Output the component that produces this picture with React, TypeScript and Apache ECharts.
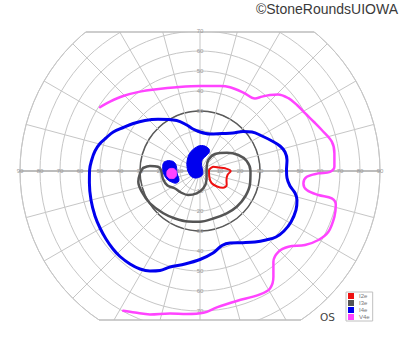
import React, { useEffect, useRef } from "react";
import * as echarts from "echarts";

// ---------- layout constants ----------
const CENTER: [number, number] = [200, 171];
const RADIUS_PX = 180;
const TOP_CLIP_Y = 32;
const BOTTOM_CLIP_Y = 320;

// ---------- axes ----------
const ECC_MAX = 90; // degrees of eccentricity
const ECC_STEP = 10;
const ECC_TICKS = [0, 10, 20, 30, 40, 50, 60, 70, 80, 90];
const VERTICAL_LABEL_MAX = 70; // vertical meridian is cut at about 70°
const EMPHASIS_RING = 30;
const MERIDIAN_STEP = 15;

// ---------- legend ----------
const LEGEND_NAMES = ["I2e", "I3e", "I4e", "V4e"];
const COLORS: Record<string, string> = {
  I2e: "#ee1111",
  I3e: "#555555",
  I4e: "#0000ee",
  V4e: "#ff44ff",
};

// ---------- isopters: [horizontal°, vertical°] ----------
const I2E: [number, number][] = [
  [4.5, 0.5], [6.65, 2.15], [9.5, 1.75], [12.5, 1.35], [15.35, 0], [13.75, -2],
  [13.25, -4.5], [13.35, -7], [11.5, -8.4], [8.5, -7.75], [5.75, -6], [4.65, -3],
];

const I3E: [number, number][] = [
  [-28.5, 1.5], [-25, 2.5], [-21, 2.15], [-19.5, 0.5], [-18.5, -4], [-16.25, -7.25],
  [-12.5, -8.75], [-9.5, -10.75], [-6, -12], [-1.65, -11.15], [1.65, -8.65],
  [3.25, -4.5], [3.35, 2], [4.15, 5.5], [7.5, 8.5], [13.5, 9.15], [19.15, 8],
  [23.35, 5], [25.25, 0], [25, -6.5], [22.75, -12.5], [18.5, -17.75],
  [13.35, -21.15], [6.65, -23.75], [0, -25.35], [-6, -25.25], [-12.5, -23.75],
  [-18.35, -21.15], [-25, -16.15], [-29.15, -10.35], [-30.85, -5.35], [-30, -1.15],
];

const I4E: [number, number][] = [
  [0, 19.5], [5, 18.5], [11, 18.75], [16.5, 19], [21.5, 19.75], [26, 19.5],
  [31, 17.5], [36, 15], [40, 12.5], [42.5, 9.5], [43.5, 5.5], [43.25, 0.5],
  [43.5, -3.5], [45, -7.5], [47.5, -11], [48.5, -14.5], [48, -19.5], [45.5, -25.5],
  [42, -30], [38, -33], [33, -34.5], [27.5, -35.5], [21.5, -35.85], [15, -36],
  [11, -37.25], [6.5, -41], [0, -44.25], [-7.5, -46.5], [-15, -48], [-20, -49.75],
  [-25, -50], [-30, -49], [-35, -46.5], [-40, -42.75], [-43.5, -39], [-47, -34],
  [-50, -28.5], [-52.5, -22.5], [-54.5, -14.5], [-55.3, -6], [-55.2, 0.5],
  [-54.15, 5.5], [-52.5, 10], [-50, 13.75], [-47, 16.5], [-43.35, 19.5],
  [-38.35, 21.75], [-33.35, 23.75], [-27.5, 25.25], [-21, 25.85], [-11.65, 25.25],
  [-6.65, 23], [-3.5, 21],
];

const I4E_CENTRAL: [number, number][] = [
  [0.75, 12.75], [4, 11.5], [4.75, 9.75], [3.25, 7.75], [1.25, 5.75], [0.75, 3.5],
  [1.25, 0.5], [1.25, -1.75], [-0.75, -3.25], [-3.5, -3.25], [-5.5, -1.25],
  [-6.5, 2.25], [-6.25, 6], [-5, 9], [-2.5, 11.5],
];

const I4E_PARACENTRAL: [number, number][] = [
  [-18.25, 4], [-16.75, 5], [-14.75, 5.1], [-12.75, 4.25], [-11.75, 2], [-11.5, -1],
  [-10.5, -4.5], [-11.75, -6], [-14.25, -5.5], [-16.5, -4], [-18.1, -1.5], [-18.65, 1.5],
];

const V4E: [number, number][] = [
  [-50, 31.9], [-45, 34.7], [-38.4, 37.5], [-30, 39.7], [-21.7, 40.9], [-11.7, 41.9],
  [0, 42.5], [10, 42.5], [15, 41.9], [21.7, 39.2], [27.5, 36.2], [31, 37.2],
  [35, 38], [39, 38.3], [44.2, 36.4], [48.5, 33], [52.5, 28.9], [57, 24.5],
  [60.9, 20.5], [65.9, 14.7], [67.2, 8.9], [67.2, 2.2], [65, -0.4], [59.2, -1.2],
  [53.4, -2.9], [51.7, -6.2], [53.4, -9.5], [59.2, -12], [65.9, -13.7], [67.9, -17],
  [67.2, -22.9], [64.2, -30.4], [59.2, -34.5], [52.5, -37], [44.2, -37.9],
  [39.2, -40.4], [36.7, -45.4], [36.7, -52.9], [35, -58.7], [30, -61.7],
  [18.4, -65], [8.4, -68.2], [1.7, -70.9], [-6.7, -71.5], [-15, -71.2],
  [-25, -71.7], [-32.5, -70.8], [-38.4, -69.9],
];

const V4E_PARACENTRAL: [number, number][] = [
  [-16.6, -1.25], [-16, 0.6], [-14.15, 1.3], [-12.3, 0.6], [-11.7, -1.25],
  [-12.3, -3.1], [-14.15, -3.8], [-16, -3.1],
];

// ---------- helpers ----------
const toPolar = ([x, y]: [number, number]): [number, number] => {
  const r = Math.hypot(x, y);
  let a = (Math.atan2(y, x) * 180) / Math.PI;
  if (a < 0) a += 360;
  return [r, a];
};
const closed = (pts: [number, number][]) => [...pts, pts[0]];

const GRID = "#c6c6c6";
const FONT = "Liberation Sans, Arial, sans-serif";

function lineSeries(name: string, pts: [number, number][], width: number, isClosed: boolean) {
  return {
    type: "line",
    name,
    coordinateSystem: "polar",
    polarIndex: 0,
    data: (isClosed ? closed(pts) : pts).map(toPolar),
    smooth: 0.35,
    symbol: "none",
    lineStyle: { color: COLORS[name], width, cap: "round", join: "round" },
    itemStyle: { color: COLORS[name] },
    z: 56,
    silent: true,
  };
}

function blobSeries(name: string, pts: [number, number][], z: number) {
  return {
    type: "custom",
    name,
    coordinateSystem: "polar",
    polarIndex: 0,
    data: [[0, 0]],
    itemStyle: { color: COLORS[name] },
    z,
    silent: true,
    renderItem: (_params: any, api: any) => ({
      type: "polygon",
      shape: { points: pts.map((p) => api.coord(toPolar(p))), smooth: 0.45 },
      style: { fill: COLORS[name], stroke: COLORS[name], lineWidth: 1 },
    }),
  };
}

function labelCfg(maxShown: number) {
  return {
    show: true,
    fontSize: 6,
    color: "#9a9a9a",
    margin: 0,
    align: "center",
    verticalAlign: "middle",
    fontFamily: FONT,
    formatter: (v: number) => (v === 0 || v > maxShown ? "" : String(v)),
  };
}

function angleAxis(i: number, start: number, visible: boolean) {
  return {
    polarIndex: i,
    type: "value",
    min: 0,
    max: 360,
    interval: MERIDIAN_STEP,
    startAngle: start,
    clockwise: false,
    axisLine: { show: visible, lineStyle: { color: GRID, width: 1 } },
    axisTick: { show: false },
    axisLabel: { show: false },
    splitLine: { show: visible, lineStyle: { color: GRID, width: 1 } },
  };
}

function radiusAxis(i: number, maxShown: number, opts: any) {
  return {
    polarIndex: i,
    type: "value",
    min: 0,
    max: ECC_MAX,
    interval: ECC_STEP,
    axisTick: { show: false },
    axisLabel: labelCfg(maxShown),
    ...opts,
  };
}

export default function App() {
  const ref = useRef<HTMLDivElement>(null);

  useEffect(() => {
    if (!ref.current) return;
    const chart = echarts.init(ref.current, undefined, { renderer: "svg" });

    const dyTop = CENTER[1] - TOP_CLIP_Y;
    const dyBot = BOTTOM_CLIP_Y - CENTER[1];
    const hwTop = Math.sqrt(RADIUS_PX * RADIUS_PX - dyTop * dyTop);
    const hwBot = Math.sqrt(RADIUS_PX * RADIUS_PX - dyBot * dyBot);

    const polar = [0, 1, 2, 3].map(() => ({ center: CENTER, radius: RADIUS_PX }));

    const option: any = {
      animation: false,
      backgroundColor: "#ffffff",
      polar,
      angleAxis: [
        angleAxis(0, 0, true),
        angleAxis(1, 180, false),
        angleAxis(2, 90, false),
        angleAxis(3, 270, false),
      ],
      radiusAxis: [
        radiusAxis(0, ECC_MAX, {
          axisLine: { show: true, lineStyle: { color: "#bcbcbc", width: 2 } },
          splitLine: { show: true, lineStyle: { color: GRID, width: 1 } },
        }),
        radiusAxis(1, ECC_MAX, {
          axisLine: { show: true, lineStyle: { color: "#bcbcbc", width: 2 } },
          splitLine: {
            show: true,
            lineStyle: {
              color: ECC_TICKS.map((v) => (v === EMPHASIS_RING ? "#5a5a5a" : "rgba(0,0,0,0)")),
              width: 1.5,
            },
          },
        }),
        radiusAxis(2, VERTICAL_LABEL_MAX, { z: 53, axisLine: { show: false }, splitLine: { show: false } }),
        radiusAxis(3, VERTICAL_LABEL_MAX, { z: 53, axisLine: { show: false }, splitLine: { show: false } }),
      ],
      legend: {
        data: LEGEND_NAMES,
        orient: "vertical",
        left: 346,
        top: 292,
        itemWidth: 6,
        itemHeight: 6,
        itemGap: 1,
        padding: [1, 3, 1, 2],
        icon: "rect",
        selectedMode: false,
        backgroundColor: "#ffffff",
        borderColor: "#c0c0c0",
        borderWidth: 1,
        borderRadius: 0,
        z: 60,
        textStyle: { fontSize: 6, color: "#777", fontFamily: FONT },
      },
      graphic: [
        { type: "rect", z: 50, silent: true, shape: { x: 0, y: 0, width: 400, height: TOP_CLIP_Y }, style: { fill: "#fff" } },
        { type: "rect", z: 50, silent: true, shape: { x: 0, y: BOTTOM_CLIP_Y, width: 400, height: 352 - BOTTOM_CLIP_Y }, style: { fill: "#fff" } },
        {
          type: "line", z: 51, silent: true,
          shape: { x1: CENTER[0] - hwTop, y1: TOP_CLIP_Y, x2: CENTER[0] + hwTop, y2: TOP_CLIP_Y },
          style: { stroke: "#bdbdbd", lineWidth: 1.5 },
        },
        {
          type: "line", z: 51, silent: true,
          shape: { x1: CENTER[0] - hwBot, y1: BOTTOM_CLIP_Y, x2: CENTER[0] + hwBot, y2: BOTTOM_CLIP_Y },
          style: { stroke: "#bdbdbd", lineWidth: 1.5 },
        },
        {
          type: "text", z: 70, silent: true, x: 398, y: 9,
          style: {
            text: "©StoneRoundsUIOWA", fontSize: 14, fill: "#3a3a3a",
            fontFamily: FONT, textAlign: "right", textVerticalAlign: "middle",
          },
        },
        {
          type: "text", z: 70, silent: true, x: 327.5, y: 317,
          style: {
            text: "OS", fontSize: 10.5, fill: "#444",
            fontFamily: "DejaVu Sans, Arial, sans-serif",
            textAlign: "center", textVerticalAlign: "middle",
          },
        },
      ],
      series: [
        lineSeries("I2e", I2E, 2, true),
        lineSeries("I3e", I3E, 2.5, true),
        lineSeries("I4e", I4E, 3, true),
        lineSeries("V4e", V4E, 2.5, false),
        blobSeries("I4e", I4E_CENTRAL, 57),
        blobSeries("I4e", I4E_PARACENTRAL, 57),
        blobSeries("V4e", V4E_PARACENTRAL, 58),
      ],
    };

    chart.setOption(option);
    return () => chart.dispose();
  }, []);

  return (
    <div
      ref={ref}
      style={{ position: "fixed", left: 0, top: 0, width: 400, height: 352, background: "#fff" }}
    />
  );
}
